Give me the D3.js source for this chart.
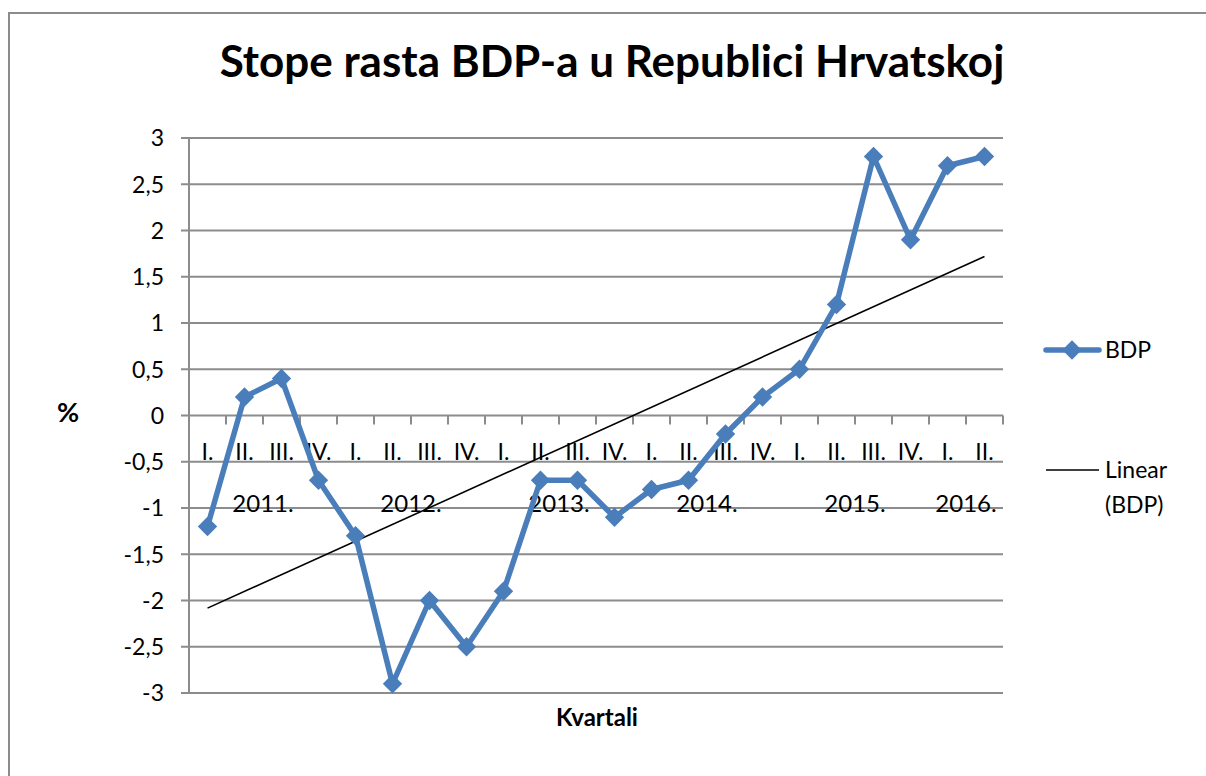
<!DOCTYPE html>
<html>
<head>
<meta charset="utf-8">
<script src="https://cdn.jsdelivr.net/npm/d3@7"></script>
<style>
  body { margin: 0; background: #fff; }
  svg { display: block; font-family: Lato, "Open Sans", sans-serif; }
</style>
</head>
<body>
<svg id="chart" width="1206" height="776"></svg>
<script>
// Chart data
var years = ["2011.", "2012.", "2013.", "2014.", "2015.", "2016."];
var quarters = ["I.", "II.", "III.", "IV.", "I.", "II.", "III.", "IV.", "I.", "II.", "III.", "IV.",
                "I.", "II.", "III.", "IV.", "I.", "II.", "III.", "IV.", "I.", "II."];
var quartersPerYear = [4, 4, 4, 4, 4, 2];
var bdp = [-1.2, 0.2, 0.4, -0.7, -1.3, -2.9, -2.0, -2.5, -1.9, -0.7, -0.7, -1.1,
           -0.8, -0.7, -0.2, 0.2, 0.5, 1.2, 2.8, 1.9, 2.7, 2.8];
var yTicks = [-3, -2.5, -2, -1.5, -1, -0.5, 0, 0.5, 1, 1.5, 2, 2.5, 3];

var svg = d3.select("#chart");
var blue = "#4a7ebb";
var grid = "#8c8c8c";

// outer frame (only top and left edges are visible)
svg.append("rect")
	.attr("x", 9).attr("y", 13)
	.attr("width", 1300).attr("height", 900)
	.attr("fill", "none").attr("stroke", grid).attr("stroke-width", 2);

// Title
svg.append("text")
	.attr("x", 612).attr("y", 77)
	.attr("text-anchor", "middle")
	.attr("font-weight", "bold")
	.attr("font-size", 44)
	.text("Stope rasta BDP-a u Republici Hrvatskoj");

// plot area bounds ("top" is a reserved window property, so avoid that name)
var plotLeft = 189, plotRight = 1003, plotTop = 138, plotBottom = 693;

var idx = d3.range(bdp.length);
var x = d3.scaleBand().domain(idx).range([plotLeft, plotRight]);
var y = d3.scaleLinear().domain([-3, 3]).range([plotBottom, plotTop]);
var cx = function(i) { return x(i) + x.bandwidth() / 2; };

// horizontal gridlines with the left tick marks
svg.append("g")
	.selectAll("line")
	.data(yTicks)
	.enter()
	.append("line")
	.attr("x1", plotLeft - 8).attr("x2", plotRight)
	.attr("y1", function(d) { return y(d); })
	.attr("y2", function(d) { return y(d); })
	.attr("stroke", grid).attr("stroke-width", 2);

// y axis line
svg.append("line")
	.attr("x1", plotLeft).attr("x2", plotLeft)
	.attr("y1", plotTop).attr("y2", plotBottom)
	.attr("stroke", grid).attr("stroke-width", 2);

// y tick labels (comma decimal)
svg.append("g")
	.selectAll("text")
	.data(yTicks)
	.enter()
	.append("text")
	.attr("x", 164)
	.attr("y", function(d) { return y(d); })
	.attr("dy", "0.36em")
	.attr("text-anchor", "end")
	.attr("font-size", 23)
	.text(function(d) { return String(d).replace(".", ","); });

// category axis crosses at 0: tick marks at band boundaries
var boundaries = d3.range(1, bdp.length + 1).map(function(i) {
	return i < bdp.length ? x(i) : plotRight;
});
svg.append("g")
	.selectAll("line")
	.data(boundaries)
	.enter()
	.append("line")
	.attr("x1", function(d) { return d; })
	.attr("x2", function(d) { return d; })
	.attr("y1", y(0)).attr("y2", y(0) + 9)
	.attr("stroke", grid).attr("stroke-width", 2);

// quarter labels
svg.append("g")
	.selectAll("text")
	.data(quarters)
	.enter()
	.append("text")
	.attr("x", function(d, i) { return cx(i); })
	.attr("y", y(0) + 44)
	.attr("text-anchor", "middle")
	.attr("font-size", 23)
	.text(function(d) { return d; });

// year labels centred under their quarters
var start = 0;
var yearPos = quartersPerYear.map(function(n) {
	var a = x(start), b = (start + n < bdp.length) ? x(start + n) : plotRight;
	start += n;
	return (a + b) / 2;
});
svg.append("g")
	.selectAll("text")
	.data(years)
	.enter()
	.append("text")
	.attr("x", function(d, i) { return yearPos[i]; })
	.attr("y", y(0) + 96)
	.attr("text-anchor", "middle")
	.attr("font-size", 24)
	.text(function(d) { return d; });

// linear trendline (least squares over the quarter index)
var n = bdp.length;
var mx = d3.mean(idx, function(i) { return i + 1; });
var my = d3.mean(bdp);
var slope = d3.sum(idx, function(i) { return (i + 1 - mx) * (bdp[i] - my); }) /
            d3.sum(idx, function(i) { return (i + 1 - mx) * (i + 1 - mx); });
var icpt = my - slope * mx;
svg.append("line")
	.attr("x1", cx(0)).attr("y1", y(icpt + slope * 1))
	.attr("x2", cx(n - 1)).attr("y2", y(icpt + slope * n))
	.attr("stroke", "#000").attr("stroke-width", 1.6);

// BDP series
svg.append("path")
	.datum(bdp)
	.attr("fill", "none")
	.attr("stroke", blue)
	.attr("stroke-width", 5.5)
	.attr("stroke-linejoin", "round")
	.attr("d", d3.line().x(function(d, i) { return cx(i); }).y(function(d) { return y(d); }));

var diamond = d3.symbol().type(d3.symbolDiamond2).size(240);
svg.append("g")
	.selectAll("path")
	.data(bdp)
	.enter()
	.append("path")
	.attr("transform", function(d, i) { return "translate(" + cx(i) + "," + y(d) + ")"; })
	.attr("d", diamond)
	.attr("fill", blue);

// axis titles
svg.append("text")
	.attr("x", 68).attr("y", 412).attr("dy", "0.36em")
	.attr("text-anchor", "middle")
	.attr("font-weight", "bold").attr("font-size", 27)
	.text("%");
svg.append("text")
	.attr("x", 597).attr("y", 717).attr("dy", "0.36em")
	.attr("text-anchor", "middle")
	.attr("font-weight", "bold").attr("font-size", 24)
	.text("Kvartali");

// legend
var lg = svg.append("g");
lg.append("line")
	.attr("x1", 1046).attr("x2", 1099).attr("y1", 350).attr("y2", 350)
	.attr("stroke", blue).attr("stroke-width", 5.5).attr("stroke-linecap", "round");
lg.append("path")
	.attr("transform", "translate(1072,350)")
	.attr("d", diamond)
	.attr("fill", blue);
lg.append("text")
	.attr("x", 1105).attr("y", 350).attr("dy", "0.36em")
	.attr("font-size", 23).text("BDP");
lg.append("line")
	.attr("x1", 1046).attr("x2", 1099).attr("y1", 470).attr("y2", 470)
	.attr("stroke", "#000").attr("stroke-width", 1.6);
lg.append("text")
	.attr("x", 1105).attr("y", 470).attr("dy", "0.36em")
	.attr("font-size", 23).text("Linear");
lg.append("text")
	.attr("x", 1105).attr("y", 505).attr("dy", "0.36em")
	.attr("font-size", 23).text("(BDP)");
</script>
</body>
</html>
